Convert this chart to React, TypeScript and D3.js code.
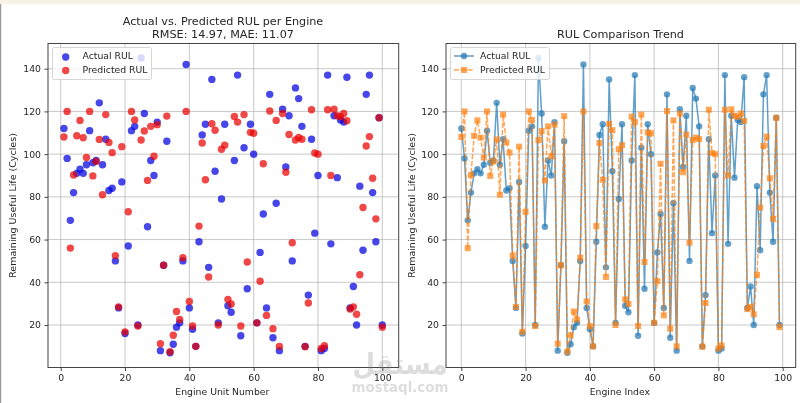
import React, { useEffect, useRef } from "react";
import * as d3 from "d3";

const actualRul = [112,98,69,82,91,93,91,95,111,96,97,124,95,107,83,84,50,28,87,16,57,111,113,20,145,119,66,97,90,115,8,48,106,7,11,19,21,50,142,28,18,10,59,109,114,47,135,92,21,79,114,29,26,97,137,15,103,37,114,100,21,54,72,28,128,14,77,8,121,94,118,50,131,126,113,10,34,107,63,90,8,9,137,58,118,89,116,115,136,28,38,20,85,55,128,137,82,59,117,20];
const predictedRul = [108,120,56,90.2,108.6,115.8,107.7,98.4,120,89.8,96.6,106.9,81,118.5,105.5,100.7,52.5,28.5,103.5,16.8,73,120,116,19.5,106.6,110.8,87.7,113,99,113.8,11.2,48,117.8,7.5,15.2,26.3,22.6,51.5,120,31,19.5,10,66.3,105.2,88,42.5,114.2,111.2,20,102.3,104.2,32,29.8,117.6,115,19.5,118.5,49.5,110.2,109.8,21,40.5,95.5,24.5,120.2,18.3,115.8,10,119,91.5,109.2,58.5,106.6,107.8,107,9.8,30.3,120.8,100.5,100,9,10.3,120.8,90,121,118,117.5,119,115.6,27.5,28.5,25,43.5,75,103.8,108.2,88.7,69.7,117,19];
const xTickValues = [0, 20, 40, 60, 80, 100];
const yTickValues = [20, 40, 60, 80, 100, 120, 140];
const seriesNames = ["Actual RUL", "Predicted RUL"];
const watermarkArabic = "مستقل";
const watermarkLatin = "mostaql.com";

const FONT = "'DejaVu Sans', sans-serif";
const TEXT = "#262626";
const LABEL_SIZE = 9.3;
const TITLE_SIZE = 11.2;
const W = 800, H = 403;
const top = 43.5, bottom = 367.5;

function drawAxes(g: any, x: any, y: any, left: number, right: number) {
  g.append("g").selectAll("line").data(xTickValues).join("line")
    .attr("x1", (d: number) => x(d)).attr("x2", (d: number) => x(d)).attr("y1", top).attr("y2", bottom)
    .attr("stroke", "#b0b0b0").attr("stroke-opacity", 0.7).attr("stroke-width", 1);
  g.append("g").selectAll("line").data(yTickValues).join("line")
    .attr("y1", (d: number) => y(d)).attr("y2", (d: number) => y(d)).attr("x1", left).attr("x2", right)
    .attr("stroke", "#b0b0b0").attr("stroke-opacity", 0.7).attr("stroke-width", 1);
}

function drawFrame(g: any, x: any, y: any, left: number, right: number, xLabel: string, yLabelX: number) {
  const axB = d3.axisBottom(x).tickValues(xTickValues).tickSize(3.5).tickPadding(3.5).tickFormat(d3.format("d") as any);
  const axL = d3.axisLeft(y).tickValues(yTickValues).tickSize(3.5).tickPadding(3.5).tickFormat(d3.format("d") as any);
  const b = g.append("g").attr("transform", `translate(0,${bottom})`).call(axB);
  const l = g.append("g").attr("transform", `translate(${left},0)`).call(axL);
  [b, l].forEach((a: any) => {
    a.select(".domain").remove();
    a.selectAll("line").attr("stroke", "#444");
    a.selectAll("text").attr("fill", TEXT).attr("font-family", FONT).attr("font-size", LABEL_SIZE);
  });
  g.append("rect").attr("x", left).attr("y", top).attr("width", right - left).attr("height", bottom - top)
    .attr("fill", "none").attr("stroke", "#444").attr("stroke-width", 1);
  g.append("text").attr("x", (left + right) / 2 - 1).attr("y", 394.5).attr("text-anchor", "middle")
    .attr("font-family", FONT).attr("font-size", LABEL_SIZE).attr("fill", TEXT).text(xLabel);
  g.append("text").attr("transform", `translate(${yLabelX},205.5) rotate(-90)`).attr("text-anchor", "middle")
    .attr("font-family", FONT).attr("font-size", 9.5).attr("fill", TEXT).text("Remaining Useful Life (Cycles)");
}

function drawLegendBox(g: any, lx: number, width: number) {
  g.append("rect").attr("x", lx).attr("y", 47.5).attr("width", width).attr("height", 32).attr("rx", 2)
    .attr("fill", "#fff").attr("fill-opacity", 0.8).attr("stroke", "#ccc").attr("stroke-opacity", 0.8);
}

function legendText(g: any, x: number, y: number, s: string) {
  g.append("text").attr("x", x).attr("y", y).attr("font-family", FONT).attr("font-size", LABEL_SIZE).attr("fill", TEXT).text(s);
}

export default function App() {
  const ref = useRef<SVGSVGElement>(null);
  useEffect(() => {
    const svg = d3.select(ref.current);
    svg.selectAll("*").remove();
    const filter = svg.append("defs").append("filter").attr("id", "soft")
      .attr("x", 0).attr("y", 0).attr("width", 1).attr("height", 1).attr("filterUnits", "objectBoundingBox");
    filter.append("feGaussianBlur").attr("stdDeviation", 0.5);
    const root = svg.append("g").attr("filter", "url(#soft)");
    root.append("rect").attr("width", W).attr("height", H).attr("fill", "#fff");
    root.append("rect").attr("width", W).attr("height", 4).attr("fill", "#f8f1e6");
    root.append("rect").attr("y", 4).attr("width", 1.2).attr("height", H - 4).attr("fill", "#999");

    const yScale = d3.scaleLinear().domain([20, 140]).range([325, 68.7]);
    const units = actualRul.map((_, i) => i + 1);

    // Left panel
    const gL = root.append("g");
    const lLeft = 48, lRight = 398.7;
    const xL = d3.scaleLinear().domain([0, 100]).range([60.7, 382.3]);
    drawAxes(gL, xL, yScale, lLeft, lRight);
    gL.append("g").selectAll("circle").data(units).join("circle")
      .attr("cx", (d: number) => xL(d)).attr("cy", (d: number) => yScale(actualRul[d - 1])).attr("r", 3.7)
      .attr("fill", "#0000e0").attr("fill-opacity", 0.72);
    gL.append("g").selectAll("circle").data(units).join("circle")
      .attr("cx", (d: number) => xL(d)).attr("cy", (d: number) => yScale(predictedRul[d - 1])).attr("r", 3.7)
      .attr("fill", "#ea0000").attr("fill-opacity", 0.72);
    drawFrame(gL, xL, yScale, lLeft, lRight, "Engine Unit Number", 16);
    drawLegendBox(gL, 52.5, 99);
    gL.append("circle").attr("cx", 65.7).attr("cy", 57).attr("r", 3.7).attr("fill", "#0000e0").attr("fill-opacity", 0.72);
    gL.append("circle").attr("cx", 65.7).attr("cy", 70.5).attr("r", 3.7).attr("fill", "#ea0000").attr("fill-opacity", 0.72);
    legendText(gL, 82.5, 59, seriesNames[0]);
    legendText(gL, 82.5, 73, seriesNames[1]);
    gL.append("text").attr("x", 223).attr("y", 25).attr("text-anchor", "middle").attr("font-family", FONT)
      .attr("font-size", TITLE_SIZE).attr("fill", TEXT).text("Actual vs. Predicted RUL per Engine");
    gL.append("text").attr("x", 223).attr("y", 37.5).attr("text-anchor", "middle").attr("font-family", FONT)
      .attr("font-size", TITLE_SIZE).attr("fill", TEXT).text("RMSE: 14.97, MAE: 11.07");

    // Right panel
    const gR = root.append("g");
    const rLeft = 446, rRight = 795.7;
    const xR = d3.scaleLinear().domain([0, 100]).range([461.3, 782.7]);
    drawAxes(gR, xR, yScale, rLeft, rRight);
    const indices = actualRul.map((_, i) => i);
    const lineOf = (vals: number[]) => d3.line<number>().x((i) => xR(i)).y((i) => yScale(vals[i]))(indices) as string;
    const blue = "#1f77b4", orange = "#ff7f0e";
    gR.append("path").attr("d", lineOf(actualRul)).attr("fill", "none").attr("stroke", blue)
      .attr("stroke-opacity", 0.7).attr("stroke-width", 1.5);
    gR.append("g").selectAll("circle").data(indices).join("circle")
      .attr("cx", (i: number) => xR(i)).attr("cy", (i: number) => yScale(actualRul[i])).attr("r", 3.2).attr("fill", blue).attr("fill-opacity", 0.7);
    gR.append("path").attr("d", lineOf(predictedRul)).attr("fill", "none").attr("stroke", orange)
      .attr("stroke-opacity", 0.7).attr("stroke-width", 1.5).attr("stroke-dasharray", "5,1.8");
    gR.append("g").selectAll("rect").data(indices).join("rect")
      .attr("x", (i: number) => xR(i) - 3).attr("y", (i: number) => yScale(predictedRul[i]) - 3)
      .attr("width", 6).attr("height", 6).attr("fill", orange).attr("fill-opacity", 0.7);
    drawFrame(gR, xR, yScale, rLeft, rRight, "Engine Index", 414.5);
    drawLegendBox(gR, 450.5, 99);
    gR.append("line").attr("x1", 454).attr("x2", 474).attr("y1", 56).attr("y2", 56).attr("stroke", blue).attr("stroke-opacity", 0.7).attr("stroke-width", 1.5);
    gR.append("circle").attr("cx", 464).attr("cy", 56).attr("r", 3.2).attr("fill", blue).attr("fill-opacity", 0.7);
    gR.append("line").attr("x1", 454).attr("x2", 474).attr("y1", 70).attr("y2", 70).attr("stroke", orange).attr("stroke-opacity", 0.7).attr("stroke-width", 1.5).attr("stroke-dasharray", "5,1.8");
    gR.append("rect").attr("x", 461).attr("y", 67).attr("width", 6).attr("height", 6).attr("fill", orange).attr("fill-opacity", 0.7);
    legendText(gR, 480, 59, seriesNames[0]);
    legendText(gR, 480, 73, seriesNames[1]);
    gR.append("text").attr("x", 620.5).attr("y", 37.5).attr("text-anchor", "middle").attr("font-family", FONT)
      .attr("font-size", TITLE_SIZE).attr("fill", TEXT).text("RUL Comparison Trend");

    // Watermark
    const wm = root.append("g").attr("fill", "#808080").attr("fill-opacity", 0.27).attr("text-anchor", "middle");
    wm.append("text").attr("x", 400).attr("y", 374).attr("font-family", "'DejaVu Sans', 'Noto Sans', sans-serif")
      .attr("font-weight", "bold").attr("font-size", 29).attr("textLength", 95).attr("lengthAdjust", "spacingAndGlyphs").text(watermarkArabic);
    wm.append("text").attr("x", 400).attr("y", 392).attr("font-family", "'DejaVu Sans', sans-serif").attr("font-weight", "bold")
      .attr("font-size", 14.5).attr("textLength", 97).attr("lengthAdjust", "spacingAndGlyphs").text(watermarkLatin);
  }, []);
  return <svg ref={ref} width={W} height={H} style={{ position: "absolute", left: 0, top: 0, display: "block" }} />;
}
